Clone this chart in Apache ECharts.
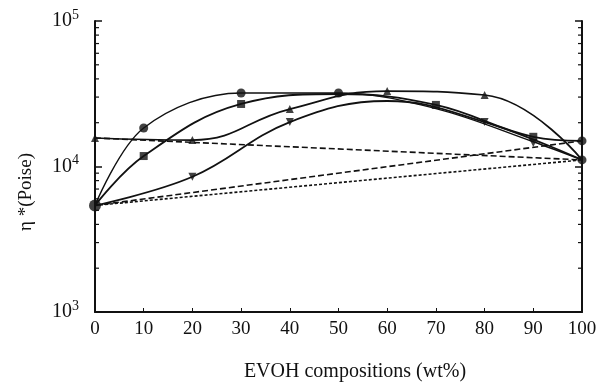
<!DOCTYPE html>
<html>
<head>
<meta charset="utf-8">
<script src="https://cdn.jsdelivr.net/npm/echarts@6/dist/echarts.min.js"></script>
<style>html,body{margin:0;padding:0;background:#fff}#c{width:601px;height:385px}</style>
</head>
<body>
<div id="c"></div>
<script>
// ---- data ----
var xTicks = [0, 10, 20, 30, 40, 50, 60, 70, 80, 90, 100];
var yTickLabels = { 1000: '3', 10000: '4', 100000: '5' };
var yMinorTicks = [2000, 3000, 4000, 5000, 6000, 7000, 8000, 9000,
                   20000, 30000, 40000, 50000, 60000, 70000, 80000, 90000];

// smooth fitted curves (x = EVOH wt%, y = eta* Poise)
var circleCurve  = [[0, 5400], [10, 18400], [30, 32000], [50, 32000], [70, 25000], [90, 14800], [100, 11100]];
var squareCurve  = [[0, 5400], [10, 11800], [30, 26900], [50, 31500], [70, 26500], [90, 16000], [100, 15000]];
var triCurve     = [[0, 15700], [20, 15200], [40, 24800], [60, 33000], [80, 31000], [100, 11100]];
var invTriCurve  = [[0, 5400], [20, 8500], [40, 20200], [60, 28200], [80, 20200], [100, 11100]];

// measured points
var circlePts  = [[0, 5400], [10, 18400], [30, 32000], [50, 32000], [100, 15000], [100, 11100]];
var squarePts  = [[10, 11800], [30, 26900], [70, 26500], [90, 16000]];
var triPts     = [[0, 15700], [20, 15200], [40, 24800], [60, 33000], [80, 31000]];
var invTriPts  = [[20, 8500], [40, 20200], [80, 20200], [90, 14500]];

// log-additivity (dashed) lines
var addA = [[0, 5400], [100, 15000]];
var addB = [[0, 5400], [100, 11100]];
var addC = [[0, 15700], [100, 11100]];

var FONT = 'Liberation Serif';
var INK = '#111';

var minorData = [];
yMinorTicks.forEach(function (v) { minorData.push([0, v]); minorData.push([100, v]); });

function curve(data, w, s) {
  return { type: 'line', data: data, smooth: s, showSymbol: false, silent: true,
    lineStyle: { color: INK, width: w }, z: 3 };
}
function dashed(data, pattern) {
  return { type: 'line', data: data, showSymbol: false, silent: true,
    lineStyle: { color: INK, width: 1.6, type: pattern }, z: 2 };
}
function marks(data, symbol, size, rot) {
  return { type: 'scatter', data: data, symbol: symbol, symbolRotate: rot || 0,
    symbolSize: function (v) { return (v[0] === 0 && symbol === 'circle') ? 12 : size; },
    itemStyle: { color: INK }, silent: true, z: 5 };
}

var chart = echarts.init(document.getElementById('c'), null, { renderer: 'canvas' });
chart.setOption({
  animation: false,
  backgroundColor: '#fff',
  grid: { left: 95, right: 19, top: 21, bottom: 73 },
  xAxis: {
    type: 'value', min: 0, max: 100, interval: 10,
    axisLine: { lineStyle: { color: INK, width: 2 } },
    axisTick: { inside: true, length: 4, lineStyle: { color: INK } },
    splitLine: { show: false },
    axisLabel: { fontFamily: FONT, fontSize: 19, color: INK, margin: 8,
      formatter: function (v) { return xTicks.indexOf(v) >= 0 ? String(v) : ''; } }
  },
  yAxis: [{
    type: 'log', logBase: 10, min: 1000, max: 100000,
    axisLine: { show: true, lineStyle: { color: INK, width: 2 } },
    axisTick: { show: true, inside: true, length: 7, lineStyle: { color: INK, width: 1.5 } },
    splitLine: { show: false },
    axisLabel: { margin: 16, color: INK,
      formatter: function (v) { return '{a|10}{b|' + (yTickLabels[Math.round(v)] || '') + '}'; },
      rich: { a: { fontFamily: FONT, fontSize: 20, color: INK },
              b: { fontFamily: FONT, fontSize: 14, color: INK, padding: [0, 0, 12, 0] } } }
  }, {
    type: 'log', logBase: 10, min: 1000, max: 100000, position: 'right',
    axisLine: { show: true, lineStyle: { color: INK, width: 2 } },
    axisTick: { show: true, inside: true, length: 7, lineStyle: { color: INK, width: 1.5 } },
    splitLine: { show: false },
    axisLabel: { show: false }
  }],
  series: [
    dashed(addA, [6, 3]),
    dashed(addB, [3, 2]),
    dashed(addC, [6, 3]),
    curve(circleCurve, 1.4, 0.35),
    curve(squareCurve, 1.8, 0.4),
    curve(triCurve, 1.7, 0.45),
    curve(invTriCurve, 1.8, 0.4),
    marks(circlePts, 'circle', 9),
    marks(squarePts, 'rect', 8),
    marks(triPts, 'triangle', 8),
    marks(invTriPts, 'triangle', 8, 180),
    {
      type: 'custom', data: minorData, silent: true, z: 4,
      renderItem: function (params, api) {
        var p = api.coord([api.value(0), api.value(1)]);
        var dir = api.value(0) === 0 ? 1 : -1;
        return { type: 'line', shape: { x1: p[0], y1: p[1], x2: p[0] + dir * 4, y2: p[1] },
          style: { stroke: INK, lineWidth: 1.2 } };
      }
    }
  ],
  graphic: [
    { type: 'text', x: 26, y: 192, rotation: Math.PI / 2,
      style: { text: 'η *(Poise)', fontFamily: FONT, fontSize: 19, fill: INK,
        align: 'center', verticalAlign: 'middle' } },
    { type: 'text', x: 355, y: 372,
      style: { text: 'EVOH compositions (wt%)', fontFamily: FONT, fontSize: 20, fill: INK,
        align: 'center', verticalAlign: 'middle' } }
  ]
});
</script>
</body>
</html>
